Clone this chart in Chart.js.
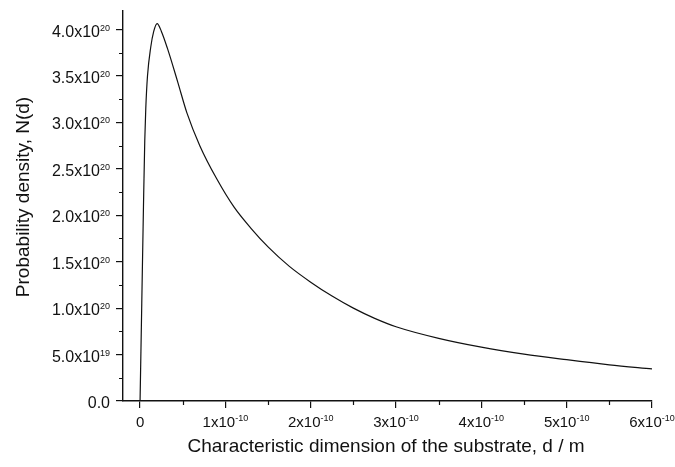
<!DOCTYPE html>
<html>
<head>
<meta charset="utf-8">
<script src="https://cdn.jsdelivr.net/npm/chart.js@4/dist/chart.umd.min.js"></script>
<style>
  html, body { margin: 0; padding: 0; background: #ffffff; }
  #wrap { position: relative; width: 675px; height: 467px; }
</style>
</head>
<body>
<div id="wrap"><canvas id="chart" width="675" height="467"></canvas></div>
<script>
// Characteristic dimension d (m) and probability density N(d)
const dValues = [0, 2e-12, 4e-12, 5.5e-12, 6.7e-12, 8.7e-12, 1.25e-11, 1.6e-11, 2.0e-11, 2.5e-11,
  3.2e-11, 4.4e-11, 5.5e-11, 7.0e-11, 9.0e-11, 1.1e-10, 1.3e-10, 1.5e-10, 1.75e-10, 2.0e-10,
  2.25e-10, 2.5e-10, 2.75e-10, 3.0e-10, 3.5e-10, 4.0e-10, 4.5e-10, 5.0e-10, 5.5e-10, 6.0e-10];
const densityValues = [0, 1.05e20, 2.1e20, 2.8e20, 3.15e20, 3.5e20, 3.81e20, 3.98e20, 4.065e20, 3.98e20,
  3.80e20, 3.44e20, 3.10e20, 2.75e20, 2.39e20, 2.09e20, 1.86e20, 1.66e20, 1.45e20, 1.28e20,
  1.13e20, 1.0e20, 0.89e20, 0.80e20, 0.675e20, 0.58e20, 0.505e20, 0.445e20, 0.39e20, 0.345e20];

// Axis ticks: labels use "^" to mark the superscript exponent
const xTickValues = [0, 1e-10, 2e-10, 3e-10, 4e-10, 5e-10, 6e-10];
const xTickLabels = ['0', '1x10^-10', '2x10^-10', '3x10^-10', '4x10^-10', '5x10^-10', '6x10^-10'];
const xMinorValues = [0.5e-10, 1.5e-10, 2.5e-10, 3.5e-10, 4.5e-10, 5.5e-10];
const yTickValues = [0, 0.5e20, 1.0e20, 1.5e20, 2.0e20, 2.5e20, 3.0e20, 3.5e20, 4.0e20];
const yTickLabels = ['0.0', '5.0x10^19', '1.0x10^20', '1.5x10^20', '2.0x10^20', '2.5x10^20',
  '3.0x10^20', '3.5x10^20', '4.0x10^20'];
const yMinorValues = [0.25e20, 0.75e20, 1.25e20, 1.75e20, 2.25e20, 2.75e20, 3.25e20, 3.75e20];

const xTitle = 'Characteristic dimension of the substrate, d / m';
const yTitle = 'Probability density, N(d)';

const FONT = '"Liberation Sans", Arial, sans-serif';
const INK = '#111111';

function splitLabel(s) {
  const i = s.indexOf('^');
  return i < 0 ? [s, ''] : [s.slice(0, i), s.slice(i + 1)];
}

// Draws a base string with an optional raised exponent; align is 'right' or 'center'
function drawSci(ctx, text, x, baseY, align, baseSize, expSize, expRise) {
  const [base, exp] = splitLabel(text);
  ctx.font = baseSize + 'px ' + FONT;
  const wb = ctx.measureText(base).width;
  ctx.font = expSize + 'px ' + FONT;
  const we = exp ? ctx.measureText(exp).width : 0;
  const total = wb + we;
  const left = align === 'right' ? x - total : x - total / 2;
  ctx.textAlign = 'left';
  ctx.textBaseline = 'alphabetic';
  ctx.font = baseSize + 'px ' + FONT;
  ctx.fillText(base, left, baseY);
  if (exp) {
    ctx.font = expSize + 'px ' + FONT;
    ctx.fillText(exp, left + wb, baseY - expRise);
  }
}

const axisDecor = {
  id: 'axisDecor',
  afterDraw(chart) {
    const ctx = chart.ctx;
    const xs = chart.scales.x, ys = chart.scales.y;
    const area = chart.chartArea;
    ctx.save();
    ctx.strokeStyle = INK;
    ctx.fillStyle = INK;
    ctx.lineWidth = 1.2;

    // minor tick marks
    ctx.beginPath();
    xMinorValues.forEach(v => {
      const px = Math.round(xs.getPixelForValue(v)) + 0.5;
      ctx.moveTo(px, area.bottom);
      ctx.lineTo(px, area.bottom + 4);
    });
    yMinorValues.forEach(v => {
      const py = Math.round(ys.getPixelForValue(v)) + 0.5;
      ctx.moveTo(area.left, py);
      ctx.lineTo(area.left - 4, py);
    });
    ctx.stroke();

    // tick labels
    xTickValues.forEach((v, i) => {
      drawSci(ctx, xTickLabels[i], xs.getPixelForValue(v), area.bottom + 26, 'center', 15, 9, 6);
    });
    yTickValues.forEach((v, i) => {
      drawSci(ctx, yTickLabels[i], area.left - 13, ys.getPixelForValue(v) + 7, 'right', 16, 9, 6);
    });

    // axis titles
    ctx.font = '19px ' + FONT;
    ctx.textAlign = 'center';
    ctx.textBaseline = 'middle';
    ctx.fillText(xTitle, 386, 447);
    ctx.translate(24, 197);
    ctx.rotate(-Math.PI / 2);
    ctx.fillText(yTitle, 0, 0);
    ctx.restore();
  }
};

new Chart(document.getElementById('chart'), {
  type: 'line',
  data: {
    datasets: [{
      data: dValues.map((d, i) => ({ x: d, y: densityValues[i] })),
      borderColor: INK,
      borderWidth: 1.2,
      pointRadius: 0,
      fill: false,
      cubicInterpolationMode: 'monotone'
    }]
  },
  options: {
    responsive: false,
    animation: false,
    events: [],
    layout: { padding: { top: 11, right: 23, left: 0, bottom: 0 } },
    plugins: { legend: { display: false }, tooltip: { enabled: false } },
    scales: {
      x: {
        type: 'linear',
        min: -0.2e-10,
        max: 6e-10,
        afterBuildTicks: s => { s.ticks = xTickValues.map(v => ({ value: v })); },
        afterFit: s => { s.height = 66; },
        ticks: { display: false },
        grid: { drawOnChartArea: false, drawTicks: true, tickLength: 7, color: INK, lineWidth: 1.2 },
        border: { display: true, color: INK, width: 1.4 }
      },
      y: {
        type: 'linear',
        min: 0,
        max: 4.2e20,
        afterBuildTicks: s => { s.ticks = yTickValues.map(v => ({ value: v })); },
        afterFit: s => { s.width = 123; },
        ticks: { display: false },
        grid: { drawOnChartArea: false, drawTicks: true, tickLength: 7, color: INK, lineWidth: 1.2 },
        border: { display: true, color: INK, width: 1.4 }
      }
    }
  },
  plugins: [axisDecor]
});
</script>
</body>
</html>
